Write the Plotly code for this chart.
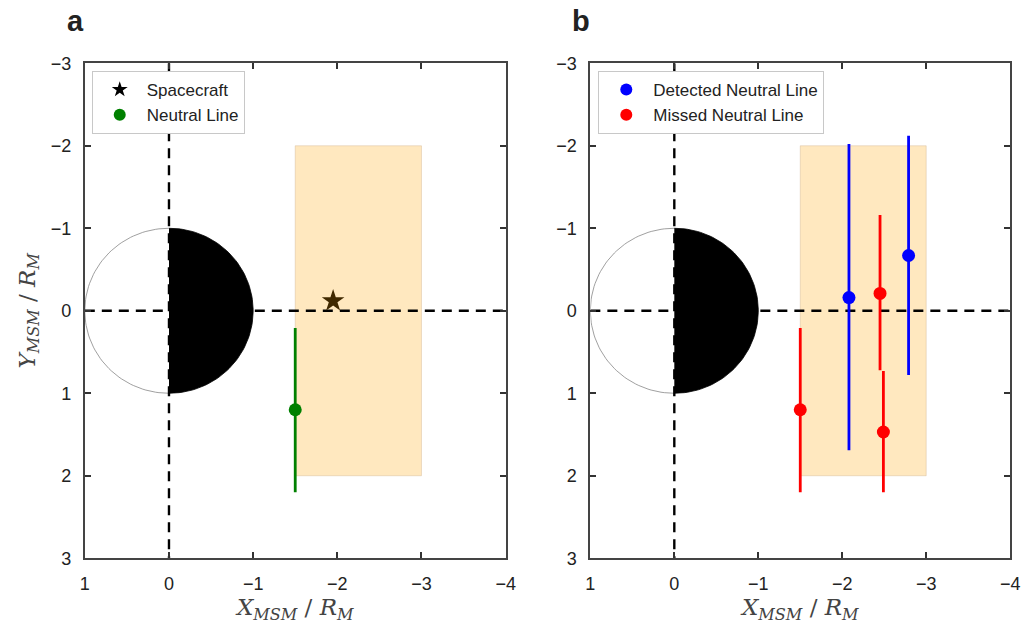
import numpy as np
import plotly.graph_objects as go

# --- data -------------------------------------------------------------
# panel a
sc_x = [-1.95]
sc_y = [-0.12]
nl_x = [-1.5]
nl_y = [1.2]
nl_lo = [0.21]
nl_hi = [2.2]

# panel b
det_x = [-2.08, -2.79]
det_y = [-0.16, -0.67]
det_lo = [-2.02, -2.12]
det_hi = [1.69, 0.78]

mis_x = [-1.5, -2.45, -2.49]
mis_y = [1.2, -0.21, 1.47]
mis_lo = [0.21, -1.16, 0.73]
mis_hi = [2.2, 0.72, 2.2]

# search region (X from, X to, Y from, Y to)
region_x = [-1.5, -3.0]
region_y = [-2.0, 2.0]

planet_r = 1.0

x_ticks = [1, 0, -1, -2, -3, -4]
y_ticks = [-3, -2, -1, 0, 1, 2, 3]

# --- figure -----------------------------------------------------------
fig = go.Figure()

axes = [("x", "y", [0.0784, 0.4918]), ("x2", "y2", [0.575, 0.9874])]

theta_day = np.linspace(np.pi / 2, 3 * np.pi / 2, 80)   # x >= 0 side
theta_night = np.linspace(-np.pi / 2, np.pi / 2, 80)    # x <= 0 side

DASH = "10px,7px"

for xa, ya, dom in axes:
    # white (dayside) half of the planet
    fig.add_trace(go.Scatter(
        x=-planet_r * np.cos(theta_day), y=planet_r * np.sin(theta_day),
        mode="lines", fill="toself", fillcolor="white",
        line=dict(color="#888", width=0.8), showlegend=False,
        hoverinfo="skip", xaxis=xa, yaxis=ya))
    # black (nightside) half
    fig.add_trace(go.Scatter(
        x=-planet_r * np.cos(theta_night), y=planet_r * np.sin(theta_night),
        mode="lines", fill="toself", fillcolor="black",
        line=dict(color="black", width=0.8), showlegend=False,
        hoverinfo="skip", xaxis=xa, yaxis=ya))
    # dashed axes through the origin
    fig.add_trace(go.Scatter(
        x=[0, 0], y=[y_ticks[0], y_ticks[-1]], mode="lines",
        line=dict(color="black", width=2.4, dash=DASH),
        showlegend=False, hoverinfo="skip", xaxis=xa, yaxis=ya))
    fig.add_trace(go.Scatter(
        x=[x_ticks[0], x_ticks[-1]], y=[0, 0], mode="lines",
        line=dict(color="black", width=2.4, dash=DASH),
        showlegend=False, hoverinfo="skip", xaxis=xa, yaxis=ya))
    # search region
    fig.add_shape(type="rect", xref=xa, yref=ya,
                  x0=region_x[0], x1=region_x[1], y0=region_y[0], y1=region_y[1],
                  fillcolor="rgba(255,165,0,0.25)",
                  line=dict(color="rgba(200,170,130,0.35)", width=1),
                  layer="below")


def err(y, lo, hi):
    return dict(type="data", symmetric=False,
                array=[h - v for v, h in zip(y, hi)],
                arrayminus=[v - l for v, l in zip(y, lo)],
                thickness=2.8, width=0)


# panel a traces
fig.add_trace(go.Scatter(
    x=sc_x, y=sc_y, mode="markers",
    marker=dict(symbol="star", size=17, color="rgb(64,41,0)"),
    showlegend=False, xaxis="x", yaxis="y"))
fig.add_trace(go.Scatter(
    x=[None], y=[None], mode="markers", name="Spacecraft",
    marker=dict(symbol="star", size=17, color="black"),
    legend="legend", xaxis="x", yaxis="y"))
fig.add_trace(go.Scatter(
    x=nl_x, y=nl_y, mode="markers", name="Neutral Line",
    marker=dict(size=13, color="green"),
    error_y=dict(err(nl_y, nl_lo, nl_hi), color="green"),
    legend="legend", xaxis="x", yaxis="y"))

# panel b traces
fig.add_trace(go.Scatter(
    x=det_x, y=det_y, mode="markers", name="Detected Neutral Line",
    marker=dict(size=13, color="blue"),
    error_y=dict(err(det_y, det_lo, det_hi), color="blue"),
    legend="legend2", xaxis="x2", yaxis="y2"))
fig.add_trace(go.Scatter(
    x=mis_x, y=mis_y, mode="markers", name="Missed Neutral Line",
    marker=dict(size=13, color="red"),
    error_y=dict(err(mis_y, mis_lo, mis_hi), color="red"),
    legend="legend2", xaxis="x2", yaxis="y2"))

SANS = "Liberation Sans, Arial, sans-serif"
tick_font = dict(family=SANS, size=18, color="#222")
title_font = dict(family="DejaVu Serif, serif", size=23, color="#444")
legend_font = dict(family=SANS, size=17, color="#222")

x_title = "<i>X</i><sub><i>MSM</i></sub> / <i>R</i><sub><i>M</i></sub>"
y_title = "<i>Y</i><sub><i>MSM</i></sub> / <i>R</i><sub><i>M</i></sub>"

common = dict(showgrid=False, zeroline=False, showline=True, linecolor="#444",
              linewidth=2, mirror="ticks", ticks="inside", ticklen=6,
              tickwidth=1.5, tickcolor="#333", tickfont=tick_font,
              ticklabelstandoff=8)

layout = dict(
    width=1033, height=636,
    margin=dict(l=0, r=0, t=0, b=0),
    paper_bgcolor="white", plot_bgcolor="white",
    showlegend=True,
    legend=dict(x=0.0852, y=0.901, xanchor="left", yanchor="top",
                bgcolor="white", bordercolor="#c8c8c8", borderwidth=1,
                font=legend_font, itemwidth=44,
                itemsizing="constant", tracegroupgap=0),
    legend2=dict(x=0.5828, y=0.901, xanchor="left", yanchor="top",
                 bgcolor="white", bordercolor="#c8c8c8", borderwidth=1,
                 font=legend_font, itemwidth=44,
                 itemsizing="constant", tracegroupgap=0),
)

for i, (xa, ya, dom) in enumerate(axes):
    xk = "xaxis" if i == 0 else "xaxis2"
    yk = "yaxis" if i == 0 else "yaxis2"
    layout[xk] = dict(common, domain=dom, range=[x_ticks[0], x_ticks[-1]],
                      tickvals=x_ticks, anchor=ya,
                      title=dict(text=x_title, font=title_font, standoff=5))
    layout[yk] = dict(common, domain=[0.110, 0.9135],
                      range=[y_ticks[-1], y_ticks[0]], tickvals=y_ticks,
                      anchor=xa,
                      title=dict(text=y_title if i == 0 else "", font=title_font,
                                 standoff=9))

panel_font = dict(family=SANS, size=29, color="#222")
layout["annotations"] = [
    dict(text="<b>a</b>", x=0.0692, y=1 - 27 / 636, xref="paper", yref="paper",
         xanchor="center", yanchor="bottom", yshift=-3, showarrow=False,
         font=panel_font),
    dict(text="<b>b</b>", x=0.5655, y=1 - 27 / 636, xref="paper", yref="paper",
         xanchor="center", yanchor="bottom", yshift=-3, showarrow=False,
         font=panel_font),
]

fig.update_layout(**layout)
fig.write_html("out.html")
